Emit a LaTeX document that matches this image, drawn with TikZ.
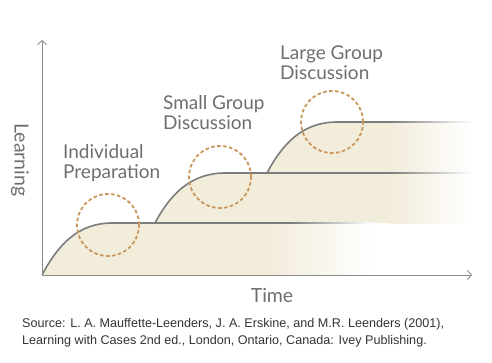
\documentclass[tikz,border=0pt]{standalone}
\usepackage{fontspec}
\usepackage{xcolor}
\usepackage{tikz}
\usetikzlibrary{arrows.meta}
\newfontfamily\stagefont{Lato}
\newfontfamily\sourcefont{Liberation Sans}
\definecolor{axisgray}{HTML}{8C8C8C}
\definecolor{curvegray}{HTML}{7C7C7C}
\definecolor{textgray}{HTML}{6E6E6E}
\definecolor{ringorange}{HTML}{C9975C}
\definecolor{cream}{HTML}{F2ECDB}

\begin{document}
\begin{tikzpicture}[x=1pt,y=-1pt,
	axis/.style={draw=axisgray, line width=0.9pt, -{Straight Barb[length=4pt,width=9pt]}},
	curve/.style={draw=curvegray, line width=1.6pt},
	ring/.style={circle, draw=ringorange, line width=1.8pt, dash pattern=on 3.6pt off 2.4pt,
		minimum size=62pt, inner sep=0pt},
	stage/.style={font=\stagefont\fontsize{19}{20}\selectfont, text=textgray, align=left,
		anchor=base west, inner sep=0pt},
	axislabel/.style={font=\stagefont\fontsize{19.5}{20}\selectfont, text=textgray, inner sep=0pt},
	source/.style={font=\sourcefont\fontsize{12.6}{17}\selectfont, text=black!80, align=left,
		anchor=base west, inner sep=0pt}]
	\useasboundingbox (0,0) rectangle (492,362);
	\coordinate (o) at (42,275);
	\coordinate (ytip) at (42,40);
	\coordinate (xtip) at (472,275);
	\coordinate (s1) at (155,223);
	\coordinate (s2) at (267,173);
	\coordinate (p1) at (112,223);
	\coordinate (p2) at (225,173);
	\coordinate (p3) at (337,122);
	\fill[cream] (o) to[out=62,in=180] (p1) -- (270,223) -- (270,275) -- cycle;
	\fill[cream] (s1) to[out=62,in=180] (p2) -- (390,173) -- (390,223) -- cycle;
	\fill[cream] (s2) to[out=62,in=180] (p3) -- (390,122) -- (390,173) -- cycle;
	\shade[left color=cream, right color=white] (270,223) rectangle (372,275);
	\shade[left color=cream, right color=white] (390,122) rectangle (472,223);
	\draw[curve] (o) to[out=62,in=180] (p1) -- (290,223);
	\draw[curve] (s1) to[out=62,in=180] (p2) -- (390,173);
	\draw[curve] (s2) to[out=62,in=180] (p3) -- (390,122);
	\shade[left color=curvegray, right color=white] (290,222.2) rectangle (372,223.8);
	\shade[left color=curvegray, right color=white] (390,172.2) rectangle (472,173.8);
	\shade[left color=curvegray, right color=white] (390,121.2) rectangle (472,122.8);
	\draw[axis] (o) -- (ytip);
	\draw[axis] (o) -- (xtip);
	\node[ring] (r1) at (108,225) {};
	\node[ring] (r2) at (220,177) {};
	\node[ring] (r3) at (332,122) {};
	\node[stage] (indiv) at (63,178) {Individual\\Preparation};
	\node[stage] (small) at (163,129) {Small Group\\Discussion};
	\node[stage] (large) at (280,79) {Large Group\\Discussion};
	\node[axislabel, rotate=-90] (learning) at (20,160) {Learning};
	\node[axislabel, anchor=base] (time) at (272,302) {Time};
	\node[source] (src) at (22,344) {Source: L. A. Mauffette-Leenders, J. A. Erskine, and M.R. Leenders (2001),\\Learning with Cases 2nd ed., London, Ontario, Canada: Ivey Publishing.};
\end{tikzpicture}
\end{document}
